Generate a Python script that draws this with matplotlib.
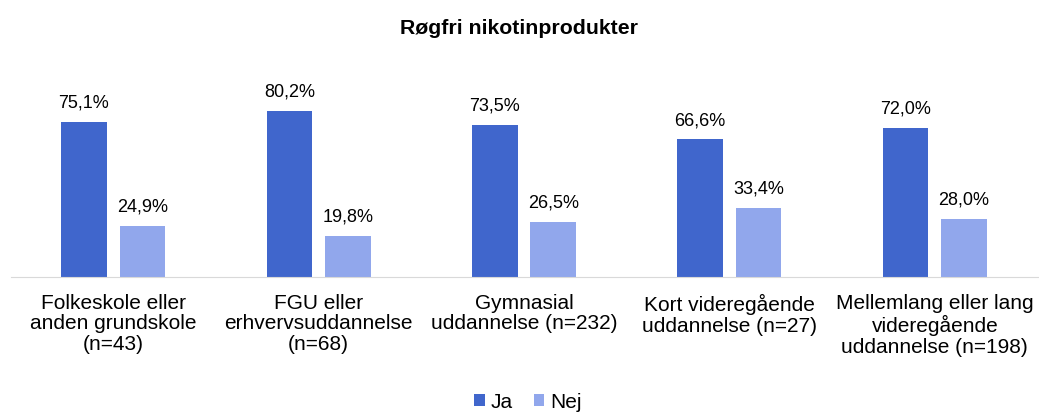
import matplotlib.pyplot as plt
import numpy as np

plt.rcParams["font.family"] = ["Liberation Sans", "DejaVu Sans"]

categories = [
    "Folkeskole eller\nanden grundskole\n(n=43)",
    "FGU eller\nerhvervsuddannelse\n(n=68)",
    "Gymnasial\nuddannelse (n=232)",
    "Kort videregående\nuddannelse (n=27)",
    "Mellemlang eller lang\nvideregående\nuddannelse (n=198)",
]
ja = [75.1, 80.2, 73.5, 66.6, 72.0]
nej = [24.9, 19.8, 26.5, 33.4, 28.0]

dark = "#4066CC"
light = "#91A7EC"

fig = plt.figure(figsize=(10.39, 4.12), dpi=100)
ax = fig.add_axes([10.5 / 1039, 135 / 412, 1027 / 1039, 186 / 412])

x = np.arange(len(categories))
w = 0.222
off = 0.1425
b1 = ax.bar(x - off, ja, w, color=dark, label="Ja")
b2 = ax.bar(x + off, nej, w, color=light, label="Nej")

for bars, vals in ((b1, ja), (b2, nej)):
    for b, v in zip(bars, vals):
        ax.text(b.get_x() + b.get_width() / 2, v + 5, f"{v:.1f}%".replace(".", ","),
                ha="center", va="bottom", fontsize=13)

ax.set_xlim(-0.5, len(categories) - 0.5)
ax.set_ylim(0, 90)
ax.set_yticks([])
ax.set_xticks(x)
ax.set_xticklabels(categories, fontsize=15, linespacing=1.12)
ax.tick_params(axis="x", length=0, pad=12)
for s in ("top", "right", "left"):
    ax.spines[s].set_visible(False)
ax.spines["bottom"].set_color("#D9D9D9")

fig.text(0.5, 1 - 28 / 412, "Røgfri nikotinprodukter", ha="center", va="center",
         fontsize=15.3, fontweight="bold")

fig.legend(loc="center", bbox_to_anchor=(528 / 1039, 1 - 402 / 412), ncol=2, frameon=False,
           fontsize=15, handlelength=0.5, handleheight=0.5, handletextpad=0.3,
           columnspacing=1.0)

fig.savefig("out.png", dpi=100)
